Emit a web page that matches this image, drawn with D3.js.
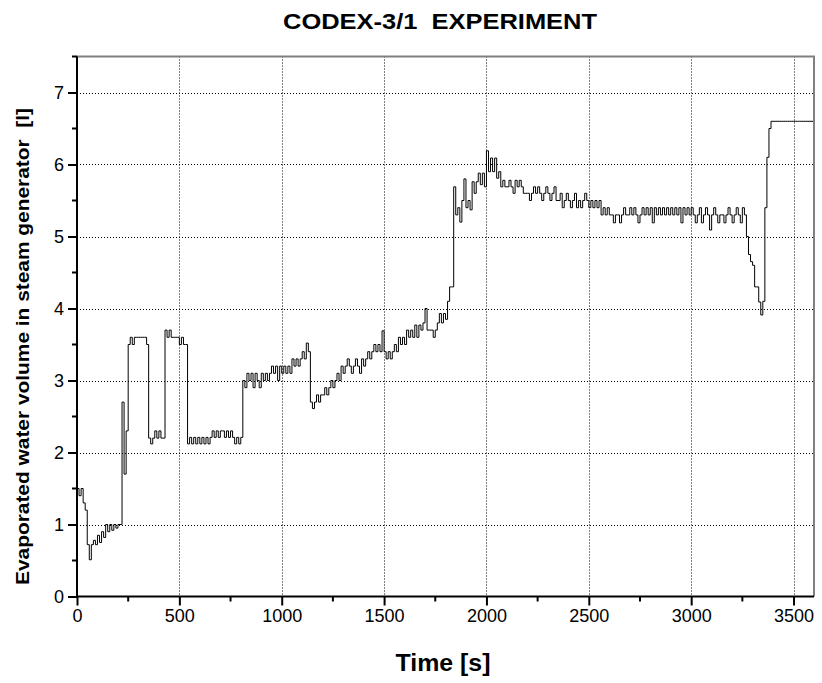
<!DOCTYPE html>
<html><head><meta charset="utf-8">
<script src="https://cdn.jsdelivr.net/npm/d3@7/dist/d3.min.js"></script>
<style>
body{margin:0;background:#fff}
svg{display:block}
text{font-family:"Liberation Sans",Arial,Helvetica,sans-serif;fill:#000}
</style>
</head><body>
<svg id="chart" width="822" height="683"></svg>
<script>
// ---------- data ----------
const title = "CODEX-3/1  EXPERIMENT";
const xLabel = "Time [s]";
const yLabel = "Evaporated water volume in steam generator  [l]";
const xTickValues = [0, 500, 1000, 1500, 2000, 2500, 3000, 3500];
const xMinorTicks = [250, 750, 1250, 1750, 2250, 2750, 3250];
const yTickValues = [0, 1, 2, 3, 4, 5, 6, 7];
const yMinorTicks = [0.5, 1.5, 2.5, 3.5, 4.5, 5.5, 6.5, 7.5];
const xDomain = [0, 3600];
const yDomain = [0, 7.5];
const sampleStep = 10; // seconds between samples
// evaporated volume [l], one sample every 10 s from 0 s to 3600 s
const volume = [
  1.5, 1.4, 1.5, 1.3, 1.2, 0.72, 0.51, 0.72, 0.78, 0.72,
  0.85, 0.75, 0.9, 0.82, 1.0, 0.9, 1.0, 0.92, 1.0, 0.95,
  1.0, 1.0, 2.7, 1.7, 2.3, 3.5, 3.6, 3.5, 3.6, 3.6,
  3.6, 3.6, 3.6, 3.6, 3.5, 2.2, 2.12, 2.2, 2.3, 2.2,
  2.3, 2.2, 2.2, 3.7, 3.6, 3.7, 3.6, 3.6, 3.6, 3.6,
  3.5, 3.6, 3.5, 3.5, 2.12, 2.21, 2.12, 2.21, 2.12, 2.21,
  2.12, 2.21, 2.12, 2.21, 2.12, 2.21, 2.3, 2.21, 2.3, 2.21,
  2.3, 2.3, 2.21, 2.3, 2.21, 2.3, 2.21, 2.12, 2.21, 2.12,
  2.21, 3.0, 2.9, 3.1, 3.0, 3.1, 2.9, 3.1, 3.0, 2.9,
  3.1, 3.0, 3.1, 3.0, 3.1, 3.2, 3.1, 3.2, 3.0, 3.2,
  3.1, 3.2, 3.1, 3.2, 3.1, 3.3, 3.2, 3.3, 3.2, 3.3,
  3.4, 3.3, 3.52, 3.4, 2.7, 2.61, 2.7, 2.8, 2.7, 2.8,
  2.8, 2.9, 2.8, 2.9, 3.0, 2.9, 3.0, 3.1, 3.0, 3.2,
  3.1, 3.2, 3.3, 3.2, 3.1, 3.2, 3.3, 3.2, 3.1, 3.3,
  3.2, 3.3, 3.4, 3.3, 3.4, 3.5, 3.4, 3.5, 3.4, 3.69,
  3.4, 3.3, 3.4, 3.3, 3.4, 3.5, 3.4, 3.6, 3.5, 3.6,
  3.5, 3.7, 3.6, 3.7, 3.6, 3.77, 3.6, 3.77, 3.7, 3.8,
  4.0, 3.7, 3.7, 3.7, 3.6, 3.7, 3.8, 3.93, 3.8, 3.93,
  3.85, 4.1, 4.3, 4.3, 5.69, 5.3, 5.4, 5.2, 5.5, 5.8,
  5.4, 5.5, 5.37, 5.76, 5.6, 5.76, 5.88, 5.72, 5.88, 5.69,
  6.19, 5.9, 6.09, 5.9, 6.09, 5.81, 5.9, 5.69, 5.78, 5.69,
  5.69, 5.78, 5.69, 5.6, 5.78, 5.69, 5.78, 5.69, 5.6, 5.6,
  5.6, 5.5, 5.6, 5.69, 5.6, 5.69, 5.6, 5.5, 5.6, 5.69,
  5.6, 5.5, 5.6, 5.69, 5.5, 5.5, 5.6, 5.4, 5.5, 5.6,
  5.5, 5.4, 5.5, 5.6, 5.4, 5.5, 5.4, 5.5, 5.6, 5.5,
  5.4, 5.5, 5.4, 5.5, 5.4, 5.5, 5.3, 5.4, 5.3, 5.4,
  5.3, 5.3, 5.19, 5.3, 5.3, 5.19, 5.3, 5.4, 5.3, 5.3,
  5.4, 5.3, 5.4, 5.3, 5.19, 5.3, 5.4, 5.3, 5.4, 5.3,
  5.4, 5.19, 5.4, 5.3, 5.4, 5.3, 5.4, 5.3, 5.4, 5.3,
  5.4, 5.3, 5.4, 5.3, 5.4, 5.19, 5.4, 5.3, 5.4, 5.3,
  5.4, 5.3, 5.19, 5.3, 5.4, 5.19, 5.3, 5.4, 5.3, 5.09,
  5.3, 5.4, 5.3, 5.19, 5.3, 5.3, 5.19, 5.3, 5.4, 5.3,
  5.19, 5.3, 5.4, 5.3, 5.19, 5.4, 5.3, 5.0, 4.75, 4.65,
  4.6, 4.3, 4.3, 4.09, 3.91, 4.1, 5.4, 6.1, 6.5, 6.6,
  6.6, 6.6, 6.6, 6.6, 6.6, 6.6, 6.6, 6.6, 6.6, 6.6,
  6.6, 6.6, 6.6, 6.6, 6.6, 6.6, 6.6, 6.6, 6.6, 6.6,
  6.6
];

// ---------- chart ----------
const svg = d3.select("#chart");
const pL = 77, pR = 814, pT = 56.5, pB = 596.5;
const x = d3.scaleLinear().domain(xDomain).range([pL, pR]);
const y = d3.scaleLinear().domain(yDomain).range([pB, pT]);

// grid
const grid = svg.append("g").attr("stroke", "#000").attr("stroke-width", 1)
  .attr("stroke-dasharray", "1,2");
grid.selectAll("line.gx").data(xTickValues.filter(d => d > 0)).enter().append("line")
  .attr("x1", d => Math.round(x(d)) + 0.5).attr("x2", d => Math.round(x(d)) + 0.5)
  .attr("y1", pT).attr("y2", pB);
grid.selectAll("line.gy").data(yTickValues.filter(d => d > 0)).enter().append("line")
  .attr("x1", pL).attr("x2", pR)
  .attr("y1", d => Math.round(y(d)) + 0.5).attr("y2", d => Math.round(y(d)) + 0.5);

// data line
const pts = volume.map((v, i) => [i * sampleStep, v]);
svg.append("path").datum(pts)
  .attr("fill", "none").attr("stroke", "#000").attr("stroke-width", 1)
  .attr("d", d3.line().curve(d3.curveStepAfter).x(d => x(d[0])).y(d => y(d[1])));

// top & right frame (grey)
svg.append("line").attr("x1", pL).attr("x2", pR + 1).attr("y1", pT).attr("y2", pT)
  .attr("stroke", "#808080").attr("stroke-width", 2);
svg.append("line").attr("x1", pR).attr("x2", pR).attr("y1", pT).attr("y2", pB)
  .attr("stroke", "#808080").attr("stroke-width", 2);

// axes
const fs = 18;
const xAxis = d3.axisBottom(x).tickValues(xTickValues).tickSize(9).tickPadding(4)
  .tickFormat(d3.format("d"));
const gx = svg.append("g").attr("transform", `translate(0,${pB})`).call(xAxis);
gx.selectAll("line.minor").data(xMinorTicks).enter().append("line")
  .attr("class", "minor").attr("x1", d => x(d)).attr("x2", d => x(d))
  .attr("y1", 0).attr("y2", 5).attr("stroke", "#000").attr("stroke-width", 2);

const yAxis = d3.axisLeft(y).tickValues(yTickValues).tickSize(9).tickPadding(4)
  .tickFormat(d3.format("d"));
const gy = svg.append("g").attr("transform", `translate(${pL},0)`).call(yAxis);
gy.selectAll("line.minor").data(yMinorTicks).enter().append("line")
  .attr("class", "minor").attr("y1", d => y(d)).attr("y2", d => y(d))
  .attr("x1", 0).attr("x2", -5).attr("stroke", "#000").attr("stroke-width", 2);

[gx, gy].forEach(g => {
  g.select(".domain").attr("stroke", "#000").attr("stroke-width", 2);
  g.selectAll(".tick line").attr("stroke", "#000").attr("stroke-width", 2);
  g.selectAll(".tick text").attr("font-size", fs).attr("fill", "#000")
    .attr("font-family", '"Liberation Sans",Arial,sans-serif');
});
gx.select(".domain").attr("d", `M${pL},0H${pR}`);
gy.select(".domain").attr("d", `M0,${pB + 1}V${pT}`);

// titles
svg.append("text").attr("x", 440).attr("y", 29).attr("text-anchor", "middle")
  .attr("font-size", 22).attr("font-weight", "bold").style("white-space", "pre")
  .attr("textLength", 314).attr("lengthAdjust", "spacingAndGlyphs")
  .text(title);
svg.append("text").attr("x", 443).attr("y", 671).attr("text-anchor", "middle")
  .attr("font-size", 23).attr("font-weight", "bold")
  .attr("textLength", 95).attr("lengthAdjust", "spacingAndGlyphs").text(xLabel);
svg.append("text").attr("transform", `translate(29,346.5) rotate(-90)`)
  .attr("text-anchor", "middle").attr("font-size", 19).attr("font-weight", "bold")
  .style("white-space", "pre")
  .attr("textLength", 477).attr("lengthAdjust", "spacingAndGlyphs").text(yLabel);
</script>
</body></html>
